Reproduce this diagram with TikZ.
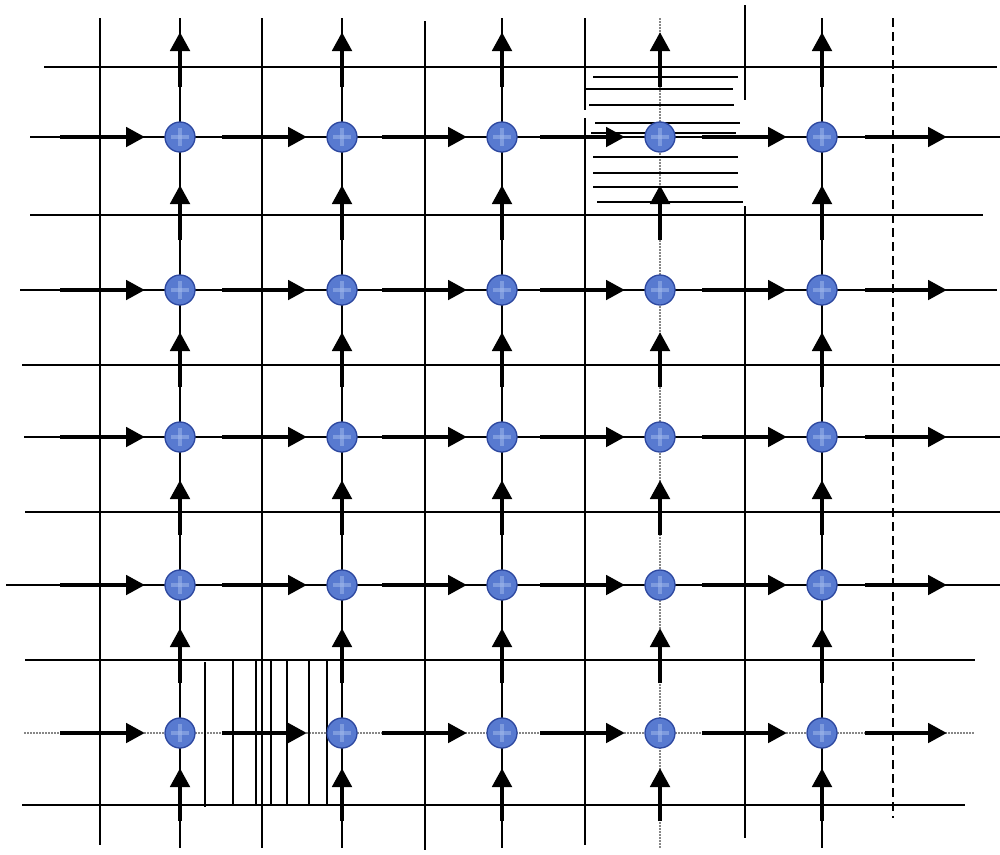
\documentclass[tikz,border=0pt]{standalone}
\usetikzlibrary{arrows.meta,calc}
\definecolor{nodeblue}{RGB}{88,122,208}
\definecolor{nodeedge}{RGB}{45,72,160}
\definecolor{nodelight}{RGB}{165,188,236}
\definecolor{dotgray}{RGB}{135,135,135}
\tikzset{
  gridline/.style={line width=1.6pt, black},
  dotline/.style={line width=1.8pt, dotgray, dash pattern=on 1.5pt off 1.5pt},
  dashline/.style={line width=2pt, black, dash pattern=on 9pt off 5pt},
  hatchline/.style={line width=1.5pt, black},
  flow/.style={line width=4.8pt, black, -{Triangle[length=19pt,width=19pt]}},
  site/.style={circle, minimum size=30pt, inner sep=0pt, fill=nodeblue,
    draw=nodeedge, line width=1.3pt,
    path picture={
      \fill[nodelight, opacity=0.5] ($(path picture bounding box.center)+(-2pt,-9pt)$) rectangle ($(path picture bounding box.center)+(2pt,9pt)$);
      \fill[nodelight, opacity=0.5] ($(path picture bounding box.center)+(-9pt,-2pt)$) rectangle ($(path picture bounding box.center)+(9pt,2pt)$);
    }}
}
\begin{document}
\begin{tikzpicture}[x=1pt,y=-1pt]
\useasboundingbox (0,0) rectangle (1000,854);
\fill[white] (0,0) rectangle (1000,854);

% plain vertical grid lines
\draw[gridline] (100,18) -- (100,845);
\draw[gridline] (262,18) -- (262,848);
\draw[gridline] (425,21) -- (425,850);
\draw[gridline] (585,18) -- (585,110) (585,118) -- (585,845);
\draw[gridline] (745,5) -- (745,100) (745,206) -- (745,838);
\draw[dashline] (893,18) -- (893,818);

% plain horizontal grid lines
\draw[gridline] (44,67) -- (997,67);
\draw[gridline] (30,215) -- (983,215);
\draw[gridline] (22,365) -- (1000,365);
\draw[gridline] (25,512) -- (1000,512);
\draw[gridline] (25,660) -- (975,660);
\draw[gridline] (22,805) -- (965,805);

% lines through the sites
\foreach \x in {180,342,502,822} \draw[gridline] (\x,18) -- (\x,848);
\draw[dotline] (660,18) -- (660,848);
\draw[gridline] (30,137) -- (1000,137);
\draw[gridline] (20,290) -- (997,290);
\draw[gridline] (24,437) -- (1000,437);
\draw[gridline] (6,585) -- (1000,585);
\draw[dotline] (24,733) -- (975,733);

% horizontal hatching (top)
\draw[hatchline] (593,77) -- (738,77);
\draw[hatchline] (586,89) -- (733,89);
\draw[hatchline] (589,105) -- (734,105);
\draw[hatchline] (595,123) -- (740,123);
\draw[hatchline] (591,133) -- (736,133);
\draw[hatchline] (593,157) -- (738,157);
\draw[hatchline] (593,173) -- (738,173);
\draw[hatchline] (593,187) -- (738,187);
\draw[hatchline] (597,202) -- (743,202);

% vertical hatching (bottom)
\draw[hatchline] (205,662) -- (205,807);
\foreach \x in {233,256,271,287,309,327} \draw[hatchline] (\x,660) -- (\x,805);

% sites
\foreach \x [count=\i] in {180,342,502,660,822}
  \foreach \y [count=\j] in {137,290,437,585,733}
    \node[site] (n-\i-\j) at (\x,\y) {};

% flow arrows
\foreach \i in {1,...,5}
  \foreach \j in {1,...,5} {
    \draw[flow] ($(n-\i-\j)+(-120,0)$) -- ($(n-\i-\j)+(-35,0)$);
    \draw[flow] ($(n-\i-\j)+(0,-50)$) -- ($(n-\i-\j)+(0,-105)$);
  }
\foreach \j in {1,...,5}
  \draw[flow] ($(n-5-\j)+(43,0)$) -- ($(n-5-\j)+(125,0)$);
\foreach \i in {1,...,5}
  \draw[flow] ($(n-\i-5)+(0,88)$) -- ($(n-\i-5)+(0,35)$);
\end{tikzpicture}
\end{document}
